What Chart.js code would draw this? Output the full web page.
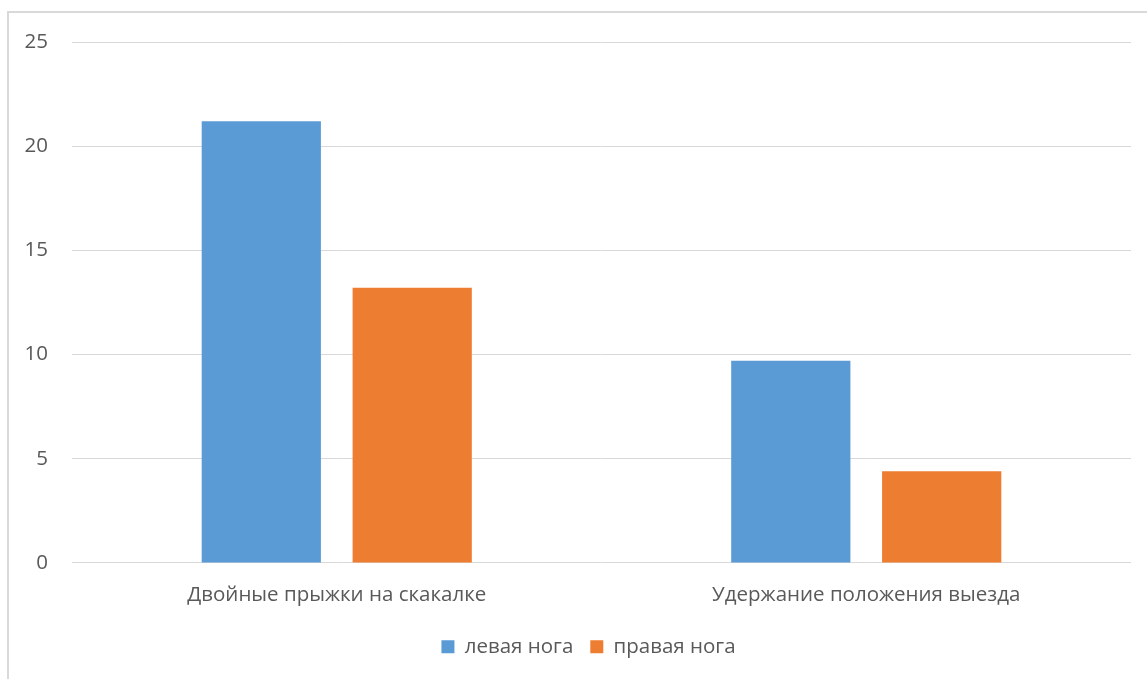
<!DOCTYPE html>
<html>
<head>
<meta charset="utf-8">
<script src="https://cdn.jsdelivr.net/npm/chart.js@4"></script>
<style>
  html, body { margin: 0; padding: 0; background: #fff; }
  #frame { position: absolute; left: 7px; top: 11px; width: 1150px; height: 680px; border: 2px solid #d9d9d9; box-sizing: border-box; }
  #wrap { position: absolute; left: 0; top: 0; width: 1147px; height: 679px; }
</style>
</head>
<body>
<div id="frame"></div>
<div id="wrap"><canvas id="chart"></canvas></div>
<script>
// Chart data
const categories = ['Двойные прыжки на скакалке', 'Удержание положения выезда'];
const leftLeg = [21.2, 9.7];
const rightLeg = [13.2, 4.4];
const seriesNames = ['левая нога', 'правая нога'];
const yTicks = [0, 5, 10, 15, 20, 25];

Chart.defaults.font.family = "'Open Sans', sans-serif";
Chart.defaults.color = '#595959';

// legend in the original sits a bit right of the canvas centre
const legendShift = {
    id: 'legendShift',
    afterLayout(chart) {
        chart.legend.left += 23;
        chart.legend.right += 23;
    }
};

const ctx = document.getElementById('chart').getContext('2d');

new Chart(ctx, {
    type: 'bar',
    data: {
        labels: categories,
        datasets: [
            { label: seriesNames[0], data: leftLeg, backgroundColor: '#5b9bd5' },
            { label: seriesNames[1], data: rightLeg, backgroundColor: '#ed7d31' }
        ]
    },
    plugins: [legendShift],
    options: {
        responsive: true,
        maintainAspectRatio: false,
        animation: false,
        categoryPercentage: 0.57,
        barPercentage: 0.79,
        layout: { padding: { top: 42, right: 16, bottom: 12, left: 0 } },
        plugins: {
            tooltip: { enabled: false },
            legend: {
                position: 'bottom',
                labels: {
                    boxWidth: 13,
                    boxHeight: 13,
                    padding: 17,
                    font: { size: 20.5 },
                    color: '#595959'
                }
            }
        },
        scales: {
            y: {
                min: 0,
                max: 25,
                afterBuildTicks: (scale) => { scale.ticks = yTicks.map(v => ({ value: v })); },
                afterFit: (scale) => { scale.width = 72; },
                border: { display: false },
                grid: { color: '#d9d9d9', lineWidth: 1, drawTicks: false },
                ticks: { padding: 24, font: { size: 20.5 }, color: '#595959' }
            },
            x: {
                border: { display: false },
                grid: { display: false },
                ticks: { padding: 12, font: { size: 20.5 }, color: '#595959' }
            }
        }
    }
});
</script>
</body>
</html>
